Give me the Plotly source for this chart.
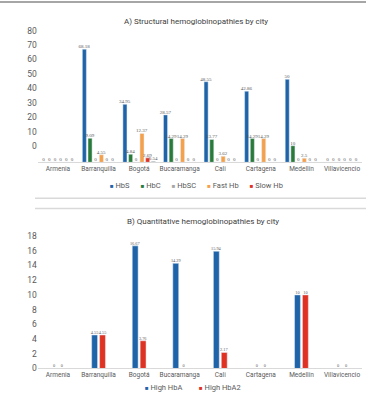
import plotly.graph_objects as go

# ---------------- data ----------------
cities = ["Armenia", "Barranquilla", "Bogotá", "Bucaramanga", "Cali",
          "Cartagena", "Medellín", "Villavicencio"]

# Panel A (bar heights as drawn in the picture) and printed labels
hbs = [0, 68.18, 34.95, 28.57, 48.55, 42.86, 50, 0]
hbc = [0, 14.5, 4.84, 14.29, 13.77, 14.29, 10, 0]
hbsc = [0, 0, 0, 0, 0, 0, 0, 0]
fast_hb = [0, 4.55, 17.4, 14.29, 3.62, 14.29, 2.5, 0]
slow_hb = [0, 0, 2.69, 0, 0, 0, 0, 0]
other_hb = [0, 0, 0.54, 0, 0, 0, 0, 0]

hbs_lbl = ["0", "68.18", "34.95", "28.57", "48.55", "42.86", "50", "0"]
hbc_lbl = ["0", "9.09", "4.84", "14.29", "13.77", "14.29", "10", "0"]
hbsc_lbl = ["0", "0", "0", "0", "0", "0", "0", "0"]
fast_lbl = ["0", "4.55", "12.37", "14.29", "3.62", "14.29", "2.5", "0"]
slow_lbl = ["0", "0", "2.69", "0", "0", "0", "0", "0"]
other_lbl = ["0", "0", "0.54", "0", "0", "0", "0", "0"]

# Panel B
high_hba = [0, 4.55, 16.67, 14.29, 15.94, 0, 10, 0]
high_hba2 = [0, 4.55, 3.76, 0, 2.17, 0, 10, 0]

ticks_a = [0, 10, 20, 30, 40, 50, 60, 70, 80]
ticks_b = [0, 2, 4, 6, 8, 10, 12, 14, 16, 18]

# ---------------- style ----------------
SANS = "Roboto, Liberation Sans, sans-serif"
SERIF = "Liberation Serif, DejaVu Serif, serif"
BLUE = "#1f64a8"
GREEN = "#2a7a3a"
GRAY = "#a6a6a6"
ORANGE = "#f5a04a"
RED = "#e03222"
DARK = "#56664e"
LBL = "#595959"

W, H = 370, 410
def px_x(p): return p / W
def px_y(p): return 1 - p / H

fig = go.Figure()

series_a = [
    ("HbS", hbs, hbs_lbl, BLUE),
    ("HbC", hbc, hbc_lbl, GREEN),
    ("HbSC", hbsc, hbsc_lbl, GRAY),
    ("Fast Hb", fast_hb, fast_lbl, ORANGE),
    ("Slow Hb", slow_hb, slow_lbl, RED),
    ("Other", other_hb, other_lbl, DARK),
]
slot = 0.14
bw = 0.10
for i, (name, vals, lbls, col) in enumerate(series_a):
    center = (i - 2.5) * slot
    fig.add_trace(go.Bar(
        x=cities, y=vals, name=name, marker_color=col,
        width=bw, offset=center - bw / 2,
        text=lbls, textposition="outside", textangle=0,
        constraintext="none", cliponaxis=False,
        textfont=dict(family=SERIF, size=5, color=LBL),
        xaxis="x", yaxis="y", showlegend=False, hoverinfo="skip",
    ))

# invisible trace for the label axis of panel A
fig.add_trace(go.Scatter(x=[cities[0]], y=[None], xaxis="x", yaxis="y3",
                         showlegend=False, hoverinfo="skip", mode="markers"))

bwb = 0.145
for name, vals, col, off in [("High HbA", high_hba, BLUE, -0.17),
                             ("High HbA2", high_hba2, RED, 0.025)]:
    fig.add_trace(go.Bar(
        x=cities, y=vals, name=name, marker_color=col,
        width=bwb, offset=off,
        text=[f"{v:g}" for v in vals], textposition="outside", textangle=0,
        constraintext="none", cliponaxis=False,
        textfont=dict(family=SERIF, size=4.3, color=LBL),
        xaxis="x2", yaxis="y2", showlegend=False, hoverinfo="skip",
    ))

# geometry (pixels)
x0, x1 = 37.7, 362.3
a_top, a_base = 25, 164.3
b_top, b_base = 230, 373
ka = 1.68                     # px per unit, bars panel A
kl = (148 - 31) / 80          # px per unit, labels panel A
kb = (373 - 239) / 18

axis_common = dict(showgrid=False, zeroline=False)
fig.update_layout(
    width=W, height=H, margin=dict(l=0, r=0, t=0, b=0),
    paper_bgcolor="white", plot_bgcolor="white",
    barmode="group",
    xaxis=dict(domain=[px_x(x0), px_x(x1)], anchor="y",
               showline=True, linecolor="#d9d9d9", linewidth=1,
               ticks="", tickfont=dict(family=SANS, size=6.5, color=LBL),
               **axis_common),
    yaxis=dict(domain=[px_y(a_base), px_y(a_top)], anchor="x",
               range=[0, (a_base - a_top) / ka], showticklabels=False,
               showline=False, ticks="", **axis_common),
    yaxis3=dict(overlaying="y", anchor="x", side="left",
                range=[-(a_base - 148) / kl, (148 - a_top) / kl],
                tickvals=ticks_a, showline=False, ticks="",
                tickfont=dict(family=SANS, size=8.5, color=LBL),
                **axis_common),
    xaxis2=dict(domain=[px_x(x0), px_x(x1)], anchor="y2",
                showline=True, linecolor="#d9d9d9", linewidth=1,
                ticks="", tickfont=dict(family=SANS, size=6.5, color=LBL),
                **axis_common),
    yaxis2=dict(domain=[px_y(b_base), px_y(b_top)], anchor="x2",
                range=[0, (b_base - b_top) / kb], tickvals=ticks_b,
                showline=False, ticks="",
                tickfont=dict(family=SANS, size=8.5, color=LBL),
                **axis_common),
)

def sq(c):
    return f'<span style="color:{c};font-size:6px">■</span>'

gap = "\u00a0" * 6
leg_a = gap.join(sq(c) + "\u00a0" + n for n, _, _, c in series_a[:5])
leg_b = sq(BLUE) + "\u00a0" + "High HbA" + "\u00a0" * 9 + sq(RED) + "\u00a0" + "High HbA2"

fig.add_annotation(text="A) Structural hemoglobinopathies by city",
                   x=px_x(196), y=px_y(15), xref="paper", yref="paper",
                   showarrow=False, font=dict(family=SANS, size=8, color="#404040"))
fig.add_annotation(text="B) Quantitative hemoglobinopathies by city",
                   x=px_x(203), y=px_y(224), xref="paper", yref="paper",
                   showarrow=False, font=dict(family=SANS, size=8, color="#404040"))
fig.add_annotation(text=leg_a, x=px_x(196), y=px_y(188), xref="paper", yref="paper",
                   showarrow=False, font=dict(family=SANS, size=7.5, color=LBL))
fig.add_annotation(text=leg_b, x=px_x(193), y=px_y(399), xref="paper", yref="paper",
                   showarrow=False, font=dict(family=SANS, size=7.5, color=LBL))

fig.add_shape(type="line", xref="paper", yref="paper",
              x0=0, x1=px_x(366), y0=px_y(2), y1=px_y(2),
              line=dict(color="#a6a6a6", width=2))
for yy in (200.7, 211):
    fig.add_shape(type="line", xref="paper", yref="paper",
                  x0=px_x(35), x1=px_x(366), y0=px_y(yy), y1=px_y(yy),
                  line=dict(color="#d9d9d9", width=1.5))

fig.write_html("out.html")
